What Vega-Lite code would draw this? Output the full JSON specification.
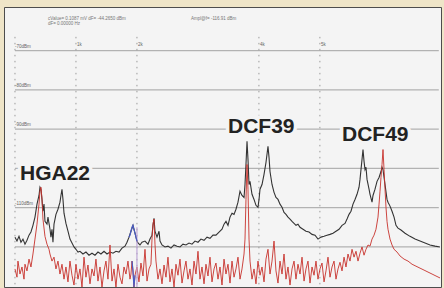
{
"$schema": "https://vega.github.io/schema/vega-lite/v6.json",
"width": 444, "height": 288,
"autosize": {"type": "fit", "contains": "padding"},
"padding": {"left": 4, "top": 7, "right": 3, "bottom": 0},
"background": "#efe5c8",
"config": {"view": {"fill": "#f4f4f4", "stroke": "#4d4d4d", "strokeWidth": 1}, "font": "Liberation Sans"},
"datasets": {
"levels": [{"db": -70, "label": "-70dBm", "f0": 0, "f1": 6950}, {"db": -80, "label": "-80dBm", "f0": 0, "f1": 6950}, {"db": -90, "label": "-90dBm", "f0": 0, "f1": 6950}, {"db": -100, "label": "", "f0": 0, "f1": 6950}, {"db": -110, "label": "-110dBm", "f0": 0, "f1": 6950}, {"db": -120, "label": "", "f0": 0, "f1": 6950}],
"ticks": [{"f": 0, "label": "", "top": -66.5, "bottom": -130.2, "lab": -68.5}, {"f": 1000, "label": "1k", "top": -66.5, "bottom": -130.2, "lab": -68.5}, {"f": 2000, "label": "2k", "top": -66.5, "bottom": -130.2, "lab": -68.5}, {"f": 4000, "label": "4k", "top": -66.5, "bottom": -130.2, "lab": -68.5}, {"f": 5000, "label": "5k", "top": -66.5, "bottom": -130.2, "lab": -68.5}],
"notes": [{"f": 541, "db": -61.9, "text": "cValue= 0.1087 mV dF= -44.2650 dBm"}, {"f": 541, "db": -63.3, "text": "dF= 0.00000 Hz"}, {"f": 2886, "db": -61.9, "text": "Ampl@f= -116.91 dBm"}],
"stations": [{"f": 82, "db": -103.0, "name": "HGA22"}, {"f": 3493, "db": -91.1, "name": "DCF39"}, {"f": 5363, "db": -93.1, "name": "DCF49"}],
"marker": [{"f": 2000, "db": -115.0, "db2": -130.2}],
"black": [
{"f":0,"db":-117.5},{"f":33,"db":-118.5},{"f":66,"db":-117.3},{"f":98,"db":-118.8},{"f":131,"db":-118.0},{"f":164,"db":-119.3},{"f":197,"db":-118.3},{"f":230,"db":-117.0},{"f":262,"db":-116.2},{"f":295,"db":-114.5},{"f":328,"db":-112.4},{"f":361,"db":-109.1},{"f":394,"db":-106.9},{"f":410,"db":-104.8},{"f":426,"db":-105.3},{"f":443,"db":-107.9},{"f":459,"db":-110.9},{"f":476,"db":-109.1},{"f":492,"db":-113.5},{"f":525,"db":-114.2},{"f":541,"db":-112.4},{"f":574,"db":-115.5},{"f":590,"db":-117.5},{"f":607,"db":-115.5},{"f":623,"db":-118.8},{"f":640,"db":-114.2},{"f":672,"db":-111.7},{"f":705,"db":-110.4},{"f":738,"db":-108.6},{"f":754,"db":-106.9},{"f":771,"db":-105.3},{"f":787,"db":-107.9},{"f":804,"db":-111.4},{"f":836,"db":-114.0},{"f":869,"db":-116.0},{"f":902,"db":-118.0},{"f":935,"db":-119.0},{"f":968,"db":-120.0},{"f":1000,"db":-120.6},{"f":1033,"db":-121.3},{"f":1066,"db":-121.1},{"f":1115,"db":-121.8},{"f":1164,"db":-121.3},{"f":1214,"db":-122.1},{"f":1263,"db":-121.6},{"f":1312,"db":-122.1},{"f":1361,"db":-121.3},{"f":1410,"db":-121.8},{"f":1460,"db":-121.1},{"f":1509,"db":-121.8},{"f":1558,"db":-121.3},{"f":1607,"db":-121.6},{"f":1656,"db":-121.1},{"f":1706,"db":-121.3},{"f":1755,"db":-120.3},{"f":1804,"db":-119.8},{"f":1837,"db":-118.8},{"f":1870,"db":-117.5},{"f":1902,"db":-116.0},{"f":1935,"db":-114.5},{"f":1968,"db":-116.5},{"f":2000,"db":-118.5},{"f":2017,"db":-119.0},{"f":2050,"db":-119.5},{"f":2083,"db":-118.8},{"f":2132,"db":-118.5},{"f":2181,"db":-119.3},{"f":2214,"db":-118.0},{"f":2247,"db":-117.0},{"f":2263,"db":-114.5},{"f":2280,"db":-112.7},{"f":2296,"db":-116.0},{"f":2329,"db":-117.5},{"f":2362,"db":-116.0},{"f":2378,"db":-118.5},{"f":2411,"db":-119.5},{"f":2460,"db":-120.0},{"f":2509,"db":-119.8},{"f":2558,"db":-120.3},{"f":2608,"db":-119.5},{"f":2657,"db":-119.8},{"f":2706,"db":-120.0},{"f":2755,"db":-119.3},{"f":2804,"db":-119.5},{"f":2854,"db":-119.0},{"f":2903,"db":-119.3},{"f":2952,"db":-118.5},{"f":3001,"db":-118.8},{"f":3050,"db":-118.0},{"f":3100,"db":-118.3},{"f":3149,"db":-117.5},{"f":3198,"db":-117.8},{"f":3247,"db":-117.0},{"f":3296,"db":-117.0},{"f":3346,"db":-116.2},{"f":3395,"db":-115.5},{"f":3428,"db":-114.2},{"f":3460,"db":-113.5},{"f":3493,"db":-114.5},{"f":3526,"db":-112.4},{"f":3559,"db":-111.4},{"f":3592,"db":-111.7},{"f":3624,"db":-110.4},{"f":3657,"db":-108.6},{"f":3690,"db":-105.8},{"f":3723,"db":-106.9},{"f":3756,"db":-107.4},{"f":3772,"db":-104.1},{"f":3788,"db":-99.0},{"f":3805,"db":-93.1},{"f":3821,"db":-97.7},{"f":3838,"db":-104.1},{"f":3854,"db":-103.3},{"f":3887,"db":-106.6},{"f":3920,"db":-107.9},{"f":3952,"db":-109.4},{"f":3985,"db":-109.9},{"f":4002,"db":-107.9},{"f":4018,"db":-105.3},{"f":4051,"db":-104.1},{"f":4084,"db":-101.5},{"f":4116,"db":-98.5},{"f":4149,"db":-94.4},{"f":4166,"db":-97.2},{"f":4182,"db":-100.8},{"f":4215,"db":-104.1},{"f":4248,"db":-106.1},{"f":4280,"db":-107.4},{"f":4313,"db":-107.9},{"f":4346,"db":-109.1},{"f":4379,"db":-109.9},{"f":4412,"db":-111.2},{"f":4444,"db":-111.7},{"f":4477,"db":-112.4},{"f":4510,"db":-112.9},{"f":4543,"db":-113.5},{"f":4576,"db":-114.0},{"f":4608,"db":-114.5},{"f":4641,"db":-114.2},{"f":4674,"db":-115.0},{"f":4723,"db":-115.5},{"f":4772,"db":-116.0},{"f":4822,"db":-116.2},{"f":4871,"db":-116.8},{"f":4920,"db":-117.0},{"f":4969,"db":-118.0},{"f":5018,"db":-117.5},{"f":5068,"db":-117.3},{"f":5117,"db":-117.0},{"f":5166,"db":-116.8},{"f":5215,"db":-116.5},{"f":5264,"db":-116.0},{"f":5314,"db":-115.5},{"f":5363,"db":-114.5},{"f":5412,"db":-114.0},{"f":5445,"db":-112.9},{"f":5478,"db":-111.7},{"f":5510,"db":-110.9},{"f":5543,"db":-109.1},{"f":5576,"db":-107.9},{"f":5609,"db":-106.6},{"f":5642,"db":-104.8},{"f":5658,"db":-102.8},{"f":5674,"db":-100.3},{"f":5691,"db":-97.7},{"f":5707,"db":-95.2},{"f":5724,"db":-98.2},{"f":5740,"db":-100.3},{"f":5756,"db":-99.7},{"f":5773,"db":-102.8},{"f":5806,"db":-105.3},{"f":5822,"db":-106.6},{"f":5855,"db":-108.6},{"f":5871,"db":-106.9},{"f":5904,"db":-105.3},{"f":5937,"db":-103.3},{"f":5970,"db":-102.3},{"f":6002,"db":-100.8},{"f":6019,"db":-99.7},{"f":6035,"db":-100.3},{"f":6068,"db":-104.1},{"f":6101,"db":-107.9},{"f":6117,"db":-108.6},{"f":6150,"db":-109.6},{"f":6183,"db":-110.9},{"f":6216,"db":-112.4},{"f":6248,"db":-114.5},{"f":6281,"db":-115.2},{"f":6330,"db":-115.7},{"f":6396,"db":-116.5},{"f":6478,"db":-117.3},{"f":6560,"db":-118.0},{"f":6642,"db":-118.5},{"f":6724,"db":-119.0},{"f":6806,"db":-119.5},{"f":6888,"db":-119.8},{"f":6970,"db":-120.0}],
"red": [
{"f":0,"db":-125.6},{"f":33,"db":-127.7},{"f":49,"db":-123.6},{"f":82,"db":-126.9},{"f":115,"db":-125.1},{"f":148,"db":-128.2},{"f":164,"db":-124.4},{"f":197,"db":-126.1},{"f":230,"db":-123.1},{"f":262,"db":-125.1},{"f":295,"db":-121.8},{"f":328,"db":-118.0},{"f":361,"db":-114.2},{"f":394,"db":-109.1},{"f":410,"db":-105.8},{"f":426,"db":-104.8},{"f":443,"db":-107.9},{"f":459,"db":-112.9},{"f":492,"db":-117.3},{"f":525,"db":-119.3},{"f":558,"db":-120.6},{"f":574,"db":-121.8},{"f":607,"db":-123.6},{"f":640,"db":-122.6},{"f":672,"db":-125.6},{"f":705,"db":-123.6},{"f":738,"db":-126.9},{"f":771,"db":-124.4},{"f":804,"db":-128.2},{"f":836,"db":-125.1},{"f":869,"db":-128.9},{"f":902,"db":-123.6},{"f":935,"db":-127.2},{"f":968,"db":-129.7},{"f":1000,"db":-124.4},{"f":1033,"db":-128.2},{"f":1066,"db":-125.6},{"f":1099,"db":-130.2},{"f":1132,"db":-122.6},{"f":1164,"db":-127.7},{"f":1197,"db":-124.6},{"f":1230,"db":-129.4},{"f":1263,"db":-125.6},{"f":1296,"db":-127.4},{"f":1328,"db":-123.1},{"f":1361,"db":-128.7},{"f":1394,"db":-125.1},{"f":1427,"db":-130.2},{"f":1460,"db":-126.1},{"f":1492,"db":-123.6},{"f":1525,"db":-128.2},{"f":1558,"db":-119.5},{"f":1591,"db":-128.7},{"f":1624,"db":-125.6},{"f":1656,"db":-130.2},{"f":1689,"db":-124.4},{"f":1722,"db":-127.7},{"f":1755,"db":-129.4},{"f":1788,"db":-125.1},{"f":1820,"db":-126.9},{"f":1853,"db":-123.6},{"f":1886,"db":-128.2},{"f":1902,"db":-126.9},{"f":1919,"db":-123.6},{"f":1935,"db":-126.1},{"f":1951,"db":-130.2},{"f":1968,"db":-127.2},{"f":2000,"db":-125.1},{"f":2033,"db":-128.9},{"f":2066,"db":-124.1},{"f":2099,"db":-127.4},{"f":2132,"db":-120.6},{"f":2165,"db":-128.7},{"f":2198,"db":-125.6},{"f":2230,"db":-124.4},{"f":2247,"db":-118.0},{"f":2263,"db":-114.2},{"f":2280,"db":-112.9},{"f":2296,"db":-119.3},{"f":2312,"db":-123.6},{"f":2345,"db":-128.2},{"f":2378,"db":-125.6},{"f":2411,"db":-129.4},{"f":2444,"db":-124.6},{"f":2476,"db":-127.7},{"f":2509,"db":-122.6},{"f":2542,"db":-128.9},{"f":2575,"db":-125.6},{"f":2608,"db":-130.2},{"f":2640,"db":-124.4},{"f":2673,"db":-127.2},{"f":2706,"db":-123.1},{"f":2739,"db":-129.2},{"f":2772,"db":-126.1},{"f":2804,"db":-123.6},{"f":2837,"db":-128.2},{"f":2870,"db":-125.6},{"f":2903,"db":-129.7},{"f":2936,"db":-123.6},{"f":2968,"db":-126.9},{"f":3001,"db":-121.1},{"f":3034,"db":-128.2},{"f":3067,"db":-125.1},{"f":3100,"db":-129.4},{"f":3132,"db":-124.4},{"f":3165,"db":-127.4},{"f":3198,"db":-122.6},{"f":3231,"db":-128.9},{"f":3264,"db":-125.6},{"f":3296,"db":-124.1},{"f":3329,"db":-128.2},{"f":3362,"db":-125.1},{"f":3395,"db":-129.7},{"f":3428,"db":-123.1},{"f":3460,"db":-126.9},{"f":3493,"db":-124.4},{"f":3526,"db":-129.2},{"f":3559,"db":-123.6},{"f":3592,"db":-127.7},{"f":3624,"db":-125.6},{"f":3657,"db":-122.6},{"f":3690,"db":-128.2},{"f":3723,"db":-125.6},{"f":3756,"db":-121.8},{"f":3772,"db":-118.0},{"f":3788,"db":-107.9},{"f":3805,"db":-99.0},{"f":3821,"db":-105.3},{"f":3838,"db":-118.0},{"f":3854,"db":-123.6},{"f":3887,"db":-128.2},{"f":3920,"db":-125.6},{"f":3952,"db":-129.4},{"f":3985,"db":-123.6},{"f":4018,"db":-127.2},{"f":4051,"db":-125.1},{"f":4084,"db":-128.9},{"f":4116,"db":-123.1},{"f":4149,"db":-120.6},{"f":4182,"db":-126.9},{"f":4215,"db":-123.6},{"f":4248,"db":-118.5},{"f":4280,"db":-126.1},{"f":4313,"db":-129.2},{"f":4346,"db":-123.6},{"f":4379,"db":-126.9},{"f":4412,"db":-121.8},{"f":4444,"db":-128.2},{"f":4477,"db":-125.1},{"f":4510,"db":-129.7},{"f":4543,"db":-125.6},{"f":4576,"db":-123.6},{"f":4608,"db":-128.2},{"f":4641,"db":-124.4},{"f":4674,"db":-126.9},{"f":4707,"db":-122.6},{"f":4740,"db":-128.7},{"f":4772,"db":-125.6},{"f":4805,"db":-123.6},{"f":4838,"db":-129.2},{"f":4871,"db":-125.1},{"f":4904,"db":-127.2},{"f":4936,"db":-123.6},{"f":4969,"db":-128.2},{"f":5002,"db":-125.6},{"f":5035,"db":-124.1},{"f":5068,"db":-128.9},{"f":5100,"db":-126.1},{"f":5133,"db":-122.6},{"f":5166,"db":-127.7},{"f":5199,"db":-125.1},{"f":5232,"db":-123.6},{"f":5264,"db":-128.2},{"f":5297,"db":-125.6},{"f":5330,"db":-123.9},{"f":5363,"db":-126.1},{"f":5396,"db":-122.6},{"f":5428,"db":-125.1},{"f":5461,"db":-121.8},{"f":5494,"db":-123.6},{"f":5527,"db":-120.6},{"f":5560,"db":-122.6},{"f":5592,"db":-121.1},{"f":5625,"db":-123.6},{"f":5658,"db":-121.6},{"f":5691,"db":-120.0},{"f":5724,"db":-122.1},{"f":5756,"db":-120.6},{"f":5789,"db":-119.5},{"f":5822,"db":-119.8},{"f":5855,"db":-118.0},{"f":5888,"db":-117.0},{"f":5920,"db":-115.5},{"f":5953,"db":-112.4},{"f":5970,"db":-109.1},{"f":5986,"db":-105.8},{"f":6002,"db":-102.3},{"f":6019,"db":-99.0},{"f":6035,"db":-95.2},{"f":6052,"db":-100.3},{"f":6068,"db":-105.3},{"f":6084,"db":-109.9},{"f":6101,"db":-113.5},{"f":6117,"db":-115.5},{"f":6150,"db":-118.0},{"f":6183,"db":-119.5},{"f":6216,"db":-120.6},{"f":6265,"db":-121.3},{"f":6314,"db":-122.3},{"f":6380,"db":-123.1},{"f":6445,"db":-123.6},{"f":6511,"db":-124.4},{"f":6576,"db":-124.9},{"f":6642,"db":-125.4},{"f":6708,"db":-125.9},{"f":6773,"db":-126.4},{"f":6839,"db":-126.9},{"f":6904,"db":-127.4},{"f":6970,"db":-127.9}],
"blue": [
{"f":1870,"db":-117.5,"seg":"a"},{"f":1886,"db":-117.0,"seg":"a"},{"f":1902,"db":-116.0,"seg":"a"},{"f":1919,"db":-115.0,"seg":"a"},{"f":1935,"db":-114.5,"seg":"a"},{"f":1951,"db":-115.5,"seg":"a"},{"f":1968,"db":-116.5,"seg":"a"},{"f":1984,"db":-117.5,"seg":"a"},{"f":2000,"db":-118.5,"seg":"a"},
{"f":1919,"db":-123.6,"seg":"b"},{"f":1935,"db":-126.1,"seg":"b"},{"f":1951,"db":-130.2,"seg":"b"},{"f":1968,"db":-127.2,"seg":"b"}]
},
"layer": [
{"data": {"name": "levels"}, "mark": {"type": "rule", "color": "#b2b2b2", "strokeWidth": 1.2},
 "encoding": {"y": {"field": "db", "type": "quantitative", "scale": {"domain": [-130.2, -58.9], "nice": false, "zero": false}, "axis": null},
  "x": {"field": "f0", "type": "quantitative", "scale": {"domain": [-180, 6986], "nice": false, "zero": false}, "axis": null},
  "x2": {"field": "f1"}}},
{"data": {"name": "ticks"}, "mark": {"type": "rule", "color": "#9a9a9a", "strokeWidth": 1, "strokeDash": [1.5, 4.5]},
 "encoding": {"x": {"field": "f", "type": "quantitative", "scale": {"domain": [-180, 6986], "nice": false, "zero": false}, "axis": null},
  "y": {"field": "top", "type": "quantitative", "scale": {"domain": [-130.2, -58.9], "nice": false, "zero": false}, "axis": null},
  "y2": {"field": "bottom"}}},
{"data": {"name": "ticks"}, "mark": {"type": "text", "fontSize": 4.5, "color": "#666", "align": "left", "baseline": "middle", "dx": 1},
 "encoding": {"x": {"field": "f", "type": "quantitative", "scale": {"domain": [-180, 6986], "nice": false, "zero": false}, "axis": null},
  "y": {"field": "lab", "type": "quantitative", "scale": {"domain": [-130.2, -58.9], "nice": false, "zero": false}, "axis": null},
  "text": {"field": "label", "type": "nominal"}}},
{"data": {"name": "levels"}, "mark": {"type": "text", "fontSize": 4.5, "color": "#666", "align": "left", "baseline": "bottom", "dy": -2},
 "encoding": {"x": {"field": "f0", "type": "quantitative", "scale": {"domain": [-180, 6986], "nice": false, "zero": false}, "axis": null},
  "y": {"field": "db", "type": "quantitative", "scale": {"domain": [-130.2, -58.9], "nice": false, "zero": false}, "axis": null},
  "text": {"field": "label", "type": "nominal"}}},
{"data": {"name": "notes"}, "mark": {"type": "text", "fontSize": 4.5, "color": "#777", "align": "left", "baseline": "middle"},
 "encoding": {"x": {"field": "f", "type": "quantitative", "scale": {"domain": [-180, 6986], "nice": false, "zero": false}, "axis": null},
  "y": {"field": "db", "type": "quantitative", "scale": {"domain": [-130.2, -58.9], "nice": false, "zero": false}, "axis": null},
  "text": {"field": "text", "type": "nominal"}}},
{"data": {"name": "black"}, "mark": {"type": "line", "color": "#333333", "strokeWidth": 1.1, "clip": true},
 "encoding": {"x": {"field": "f", "type": "quantitative", "scale": {"domain": [-180, 6986], "nice": false, "zero": false}, "axis": null},
  "y": {"field": "db", "type": "quantitative", "scale": {"domain": [-130.2, -58.9], "nice": false, "zero": false}, "axis": null}}},
{"data": {"name": "red"}, "mark": {"type": "line", "color": "#c8322c", "strokeWidth": 1, "opacity": 0.9, "clip": true},
 "encoding": {"x": {"field": "f", "type": "quantitative", "scale": {"domain": [-180, 6986], "nice": false, "zero": false}, "axis": null},
  "y": {"field": "db", "type": "quantitative", "scale": {"domain": [-130.2, -58.9], "nice": false, "zero": false}, "axis": null}}},
{"data": {"name": "marker"}, "mark": {"type": "rule", "color": "#bfa8d8", "strokeWidth": 1.2},
 "encoding": {"x": {"field": "f", "type": "quantitative", "scale": {"domain": [-180, 6986], "nice": false, "zero": false}, "axis": null},
  "y": {"field": "db", "type": "quantitative", "scale": {"domain": [-130.2, -58.9], "nice": false, "zero": false}, "axis": null},
  "y2": {"field": "db2"}}},
{"data": {"name": "blue"}, "mark": {"type": "line", "color": "#4a5cc4", "strokeWidth": 1.2, "clip": true},
 "encoding": {"x": {"field": "f", "type": "quantitative", "scale": {"domain": [-180, 6986], "nice": false, "zero": false}, "axis": null},
  "y": {"field": "db", "type": "quantitative", "scale": {"domain": [-130.2, -58.9], "nice": false, "zero": false}, "axis": null},
  "detail": {"field": "seg", "type": "nominal"}}},
{"data": {"name": "stations"}, "mark": {"type": "text", "fontSize": 21, "fontWeight": "bold", "fill": "#f4f4f4", "stroke": "#f4f4f4", "strokeWidth": 7, "align": "left", "baseline": "alphabetic"},
 "encoding": {"x": {"field": "f", "type": "quantitative", "scale": {"domain": [-180, 6986], "nice": false, "zero": false}, "axis": null},
  "y": {"field": "db", "type": "quantitative", "scale": {"domain": [-130.2, -58.9], "nice": false, "zero": false}, "axis": null},
  "text": {"field": "name", "type": "nominal"}}},
{"data": {"name": "stations"}, "mark": {"type": "text", "fontSize": 21, "fontWeight": "bold", "color": "#222222", "align": "left", "baseline": "alphabetic"},
 "encoding": {"x": {"field": "f", "type": "quantitative", "scale": {"domain": [-180, 6986], "nice": false, "zero": false}, "axis": null},
  "y": {"field": "db", "type": "quantitative", "scale": {"domain": [-130.2, -58.9], "nice": false, "zero": false}, "axis": null},
  "text": {"field": "name", "type": "nominal"}}}
]
}
